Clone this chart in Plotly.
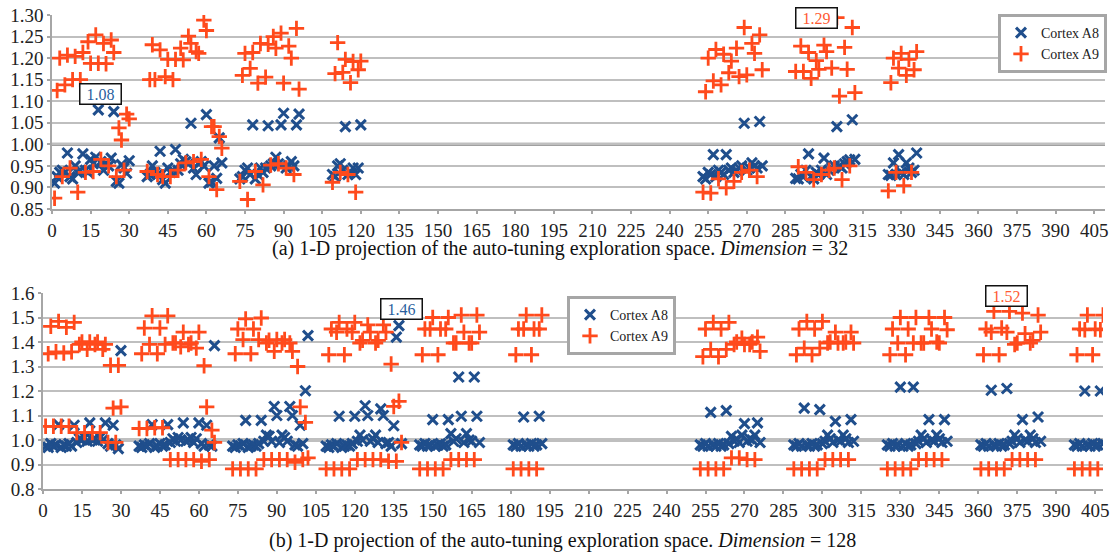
import plotly.graph_objects as go

# ---------------- data: Dimension = 32 (top) ----------------
top_starts = [1, 37, 73, 109, 253, 289, 325]
top_a8 = [
    [0.910,0.925,0.935,0.940,0.935,0.980,0.925,0.920,0.950,0.935,0.940,0.978,0.940,0.935,0.965,0.955,0.970,1.080,0.960,0.940,0.955,0.950,0.968,1.076,0.914,0.910,0.953,0.945,0.933,0.962],
    [0.925,0.930,0.950,0.935,0.930,0.984,0.918,0.910,0.945,0.935,0.940,0.988,0.940,0.955,0.965,0.960,0.955,1.049,0.945,0.930,0.955,0.960,0.950,1.069,0.910,0.913,0.950,0.921,1.015,0.957],
    [0.920,0.925,0.940,0.945,0.930,1.045,0.920,0.930,0.945,0.935,0.945,1.043,0.950,0.955,0.970,0.955,1.045,1.072,0.945,0.950,0.960,0.950,1.045,1.070],
    [0.930,0.925,0.950,0.955,0.940,1.041,0.930,0.935,0.945,0.930,0.945,1.045],
    [0.925,0.920,0.935,0.930,0.976,0.925,0.940,0.935,0.930,0.976,0.940,0.945,0.935,0.940,0.945,0.950,1.049,0.940,0.945,0.957,0.950,0.945,1.053,0.950],
    [0.921,0.920,0.930,0.925,0.940,0.978,0.925,0.920,0.935,0.930,0.940,0.968,0.930,0.940,0.945,0.950,1.041,0.950,0.945,0.955,0.960,0.964,1.057,0.965],
    [0.930,0.928,0.957,0.930,0.976,0.935,0.930,0.957,0.945,0.935,0.940,0.980],
]
top_a9 = [
    [0.875,1.125,1.200,0.925,1.138,1.207,0.945,1.150,1.204,0.889,1.150,1.213,0.935,1.238,1.188,0.937,1.254,1.188,0.965,1.234,1.187,0.950,1.242,1.213,0.925,1.038,1.010,0.940,1.070,1.059],
    [0.937,1.150,1.231,1.150,0.930,1.219,0.925,1.157,1.197,0.925,1.150,1.197,0.940,1.223,1.196,0.957,1.251,1.234,0.960,1.215,1.211,0.965,1.288,1.264,0.925,1.041,1.041,0.895,1.018,0.991],
    [0.914,1.160,1.211,0.872,1.176,1.213,0.937,1.142,1.234,0.906,1.156,1.232,0.952,1.250,1.223,0.955,1.258,1.142,0.945,1.228,1.200,0.930,1.269,1.128],
    [0.912,1.164,1.236,0.935,1.167,1.197,0.930,1.143,1.192,0.889,1.173,1.193],
    [0.889,1.122,1.200,0.887,1.147,1.220,0.920,1.138,1.209,0.899,1.166,1.193,0.914,1.223,1.157,0.935,1.271,1.161,0.940,1.234,1.211,0.925,1.254,1.173],
    [1.169,0.948,1.228,1.169,0.935,1.213,1.153,0.918,1.194,1.174,0.930,1.230,1.215,0.940,1.177,0.945,1.294,1.112,0.918,1.225,1.174,0.950,1.271,1.120],
    [0.892,1.143,1.200,0.935,1.177,1.211,0.904,1.160,1.197,0.935,1.173,1.215],
]

# ---------------- data: Dimension = 128 (bottom) ----------------
bot_starts = [1, 37, 73, 109, 145, 181, 253, 289, 325, 361, 397]
bot_a8 = [
    [0.975,0.970,0.985,0.975,0.980,1.063,0.970,0.980,0.975,0.985,0.975,1.060,0.990,1.005,1.000,1.010,0.995,1.070,1.000,1.005,0.995,1.010,1.000,1.070,0.985,0.975,1.060,0.980,0.965,1.365],
    [0.975,0.970,0.980,0.975,0.985,1.063,0.970,0.975,0.985,0.975,0.980,1.063,0.990,1.005,0.995,1.010,1.000,1.070,0.995,1.000,1.010,0.990,1.005,1.070,0.985,0.975,1.060,0.980,0.975,1.385],
    [0.975,0.970,0.980,0.975,0.985,1.080,0.970,0.975,0.980,0.975,0.985,1.080,0.995,1.020,1.015,0.995,1.137,1.100,0.990,1.020,1.010,0.995,1.137,1.100,0.980,0.975,1.060,0.985,1.201,1.426],
    [0.975,0.970,0.980,0.975,0.985,1.097,0.970,0.975,0.980,0.975,0.985,1.097,0.995,1.020,1.000,1.140,1.100,0.995,1.005,1.020,0.990,1.127,1.100,0.985,0.990,0.975,1.058,1.420,1.467,0.985],
    [0.980,0.975,0.985,0.975,0.980,1.083,0.975,0.980,0.985,0.975,0.980,1.083,1.026,0.995,1.005,1.257,1.097,0.990,1.026,1.000,0.995,1.257,1.097,0.990],
    [0.980,0.975,0.985,0.975,1.094,0.980,0.975,0.985,0.975,0.980,1.097,0.985],
    [0.980,0.975,0.985,0.975,1.113,0.980,0.975,0.985,0.975,0.980,1.120,0.985,1.015,0.995,1.005,0.990,1.020,1.067,0.995,1.005,1.000,1.020,1.070,0.990],
    [0.980,0.975,0.985,0.975,1.130,0.980,0.975,0.985,0.975,0.980,1.124,0.985,0.995,1.020,1.005,0.990,1.076,1.000,0.995,1.020,1.005,0.990,1.083,0.995],
    [0.980,0.975,0.985,0.975,0.980,1.216,0.975,0.985,0.975,0.980,1.216,0.985,0.995,1.020,1.005,0.990,1.083,1.000,0.995,1.020,1.005,0.990,1.083,0.995],
    [0.980,0.975,0.985,0.975,1.203,0.980,0.975,0.985,0.975,0.980,1.210,0.985,0.995,1.020,1.005,0.990,1.083,1.000,0.995,1.020,1.005,0.990,1.094,0.995],
    [0.980,0.975,0.985,0.975,1.200,0.980,0.975,0.985,0.975,0.980,1.200,0.985],
]
bot_a9 = [
    [1.056,1.352,1.464,1.056,1.360,1.484,1.056,1.355,1.460,1.056,1.360,1.480,1.030,1.390,1.400,1.030,1.370,1.400,1.030,1.390,1.400,1.030,1.370,1.390,0.990,1.305,1.130,0.990,1.305,1.135],
    [1.047,1.352,1.457,1.047,1.390,1.507,1.050,1.352,1.457,1.050,1.390,1.507,0.920,1.396,1.396,0.920,1.380,1.440,0.920,1.390,1.396,0.920,1.375,1.440,0.913,1.303,1.135,0.920,1.040,0.990],
    [0.882,1.352,1.453,0.882,1.410,1.494,0.882,1.352,1.453,0.882,1.410,1.498,0.920,1.396,1.407,0.920,1.362,1.410,0.920,1.396,1.410,0.920,1.396,1.362,0.909,1.300,1.135,0.920,1.072,0.927],
    [0.882,1.348,1.453,0.882,1.440,1.480,0.882,1.348,1.453,0.882,1.440,1.480,0.920,1.396,1.407,0.920,1.470,1.440,0.920,1.396,1.407,0.920,1.470,1.440,0.913,1.310,1.137,0.913,1.158,0.990],
    [0.882,1.348,1.453,0.882,1.453,1.500,0.882,1.348,1.453,0.882,1.453,1.500,0.920,1.396,1.396,0.920,1.510,1.440,0.920,1.396,1.396,0.920,1.510,1.440],
    [0.882,1.348,1.453,0.882,1.453,1.510,0.882,1.348,1.453,0.882,1.453,1.510],
    [0.882,1.340,1.453,0.882,1.370,1.480,0.882,1.340,1.453,0.882,1.370,1.480,0.927,1.390,1.400,0.927,1.416,1.390,0.920,1.390,1.400,0.920,1.420,1.362],
    [0.882,1.348,1.453,0.882,1.375,1.484,0.882,1.348,1.453,0.882,1.375,1.484,0.920,1.396,1.400,0.920,1.440,1.396,0.920,1.396,1.400,0.920,1.440,1.396],
    [0.882,1.348,1.453,0.882,1.396,1.500,0.882,1.348,1.453,0.882,1.396,1.500,0.920,1.396,1.396,0.920,1.500,1.453,0.920,1.400,1.396,0.920,1.500,1.450],
    [0.882,1.348,1.453,0.882,1.440,1.525,0.882,1.348,1.457,0.882,1.440,1.525,0.920,1.390,1.396,0.920,1.518,1.434,0.920,1.396,1.407,0.920,1.510,1.440],
    [0.882,1.348,1.453,0.882,1.450,1.510,0.882,1.348,1.453,0.882,1.450,1.510],
]

top_ticks = list(range(0, 406, 15))
top_yticks = [0.85, 0.90, 0.95, 1.00, 1.05, 1.10, 1.15, 1.20, 1.25, 1.30]
bot_yticks = [0.8, 0.9, 1.0, 1.1, 1.2, 1.3, 1.4, 1.5, 1.6]

series_names = ["Cortex A8", "Cortex A9"]
top_labels = [("1.08", 18.7, 1.117, "#2a5f9e"), ("1.29", 297, 1.293, "#ff5a33")]
bot_labels = [("1.46", 137.8, 1.535, "#2a5f9e"), ("1.52", 371, 1.588, "#ff5a33")]
captions = ["(a) 1-D projection of the auto-tuning exploration space. <i>Dimension</i> = 32",
            "(b) 1-D projection of the auto-tuning exploration space. <i>Dimension</i> = 128"]


def flatten(starts, groups):
    xs, ys = [], []
    for s, g in zip(starts, groups):
        for i, v in enumerate(g):
            xs.append(s + i)
            ys.append(v)
    return xs, ys


BLUE = "#1f4e8c"
ORANGE = "#ff4a1c"
FONT = "Times New Roman, Liberation Serif, DejaVu Serif, serif"
W, H = 1110, 552


def px(x):
    return x / W


def py(y):
    return 1 - y / H


fig = go.Figure()

for (starts, a8, a9, xa, ya, lg) in [
    (top_starts, top_a8, top_a9, "x", "y", "legend"),
    (bot_starts, bot_a8, bot_a9, "x2", "y2", "legend2"),
]:
    x8, y8 = flatten(starts, a8)
    x9, y9 = flatten(starts, a9)
    fig.add_trace(go.Scatter(x=x8, y=y8, mode="markers", name=series_names[0],
                             xaxis=xa, yaxis=ya, legend=lg,
                             marker=dict(symbol="x-thin", size=10,
                                         line=dict(width=3, color=BLUE), color=BLUE)))
    fig.add_trace(go.Scatter(x=x9, y=y9, mode="markers", name=series_names[1],
                             xaxis=xa, yaxis=ya, legend=lg,
                             marker=dict(symbol="cross-thin", size=11,
                                         line=dict(width=2.8, color=ORANGE), color=ORANGE)))

axis_common = dict(showline=True, linecolor="#a6a6a6", linewidth=1.5, automargin=False,
                   tickfont=dict(family=FONT, size=19, color="#222"),
                   ticklabeloverflow="allow",
                   ticks="outside", tickcolor="#a6a6a6", ticklen=3, tickwidth=1.5)

legend_common = dict(xanchor="right", yanchor="top", bgcolor="white",
                     bordercolor="#a6a6a6", borderwidth=3,
                     font=dict(family=FONT, size=14, color="#222"),
                     itemwidth=30, tracegroupgap=0)

fig.update_layout(
    template="none",
    width=W, height=H,
    margin=dict(l=0, r=0, t=0, b=0, autoexpand=False),
    paper_bgcolor="white", plot_bgcolor="white",
    font=dict(family=FONT, size=16, color="#222"),
    xaxis=dict(domain=[px(52), px(1105)], range=[0, 409.2], tickvals=top_ticks,
               showgrid=False, zeroline=False, anchor="y", **axis_common),
    yaxis=dict(domain=[py(209), py(15)], range=[0.85, 1.30], tickvals=top_yticks,
               tickformat=".2f", showgrid=True, gridcolor="#bfbfbf", gridwidth=1.5,
               zeroline=False, anchor="x", **axis_common),
    xaxis2=dict(domain=[px(43), px(1103)], range=[0, 408], tickvals=top_ticks,
                showgrid=False, zeroline=False, anchor="y2", **axis_common),
    yaxis2=dict(domain=[py(489), py(293)], range=[0.8, 1.6], tickvals=bot_yticks,
                tickformat=".1f", showgrid=True, gridcolor="#bfbfbf", gridwidth=1.5,
                zeroline=False, anchor="x2", **axis_common),
    legend=dict(x=px(1107), y=py(14), **legend_common),
    legend2=dict(x=px(676), y=py(296), **legend_common),
    showlegend=True,
)

# reference line at 1.00
for xr, yr in [("x", "y"), ("x2", "y2")]:
    fig.add_shape(type="line", xref=f"{xr} domain", yref=yr, x0=0, x1=1, y0=1.0, y1=1.0,
                  line=dict(color="#808080", width=3), layer="below")

for (txt, x, y, c), (xr, yr) in [(l, ("x", "y")) for l in top_labels] + [(l, ("x2", "y2")) for l in bot_labels]:
    fig.add_annotation(text=txt, x=x, y=y, xref=xr, yref=yr, showarrow=False,
                       font=dict(family=FONT, size=16, color=c),
                       bordercolor="#111", borderwidth=1.5, borderpad=1,
                       bgcolor="white", width=38)

fig.add_annotation(text=captions[0], x=px(560), y=py(248), xref="paper", yref="paper",
                   xanchor="center", yanchor="middle", showarrow=False,
                   font=dict(family=FONT, size=20, color="#111"))
fig.add_annotation(text=captions[1], x=px(562), y=py(540), xref="paper", yref="paper",
                   xanchor="center", yanchor="middle", showarrow=False,
                   font=dict(family=FONT, size=20, color="#111"))

fig.write_html("out.html",
               config={"displayModeBar": False},
               post_script="document.body.style.margin='0';document.body.style.padding='0';"
                           "document.body.style.overflow='hidden';")
